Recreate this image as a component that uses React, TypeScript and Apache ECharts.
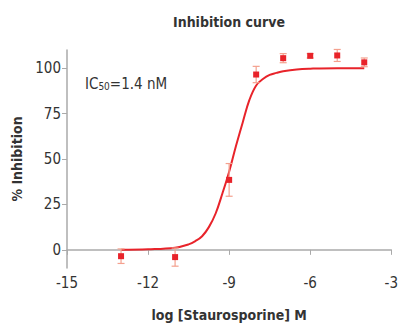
import React, { useEffect, useRef } from "react";
import * as echarts from "echarts";

const xTicks = [-15, -12, -9, -6, -3];
const yTicks = [0, 25, 50, 75, 100];

// measured points: log concentration, mean % inhibition, error (±)
const logConc = [-13, -11, -9, -8, -7, -6, -5, -4];
const inhibition = [-3.5, -4, 38.5, 96.5, 105.5, 106.8, 107, 103.2];
const errors = [4, 5, 9, 4.5, 2.5, 1.2, 3.3, 2.4];

// fitted curve
const curveX = [-13, -12, -11, -10.5, -10.25, -10, -9.75, -9.5, -9.25, -9, -8.75, -8.5, -8.25, -8, -7.75, -7.5, -7.25, -7, -6.5, -6, -5, -4];
const curveY = [0, 0.3, 1.2, 3, 4.8, 7.5, 12.5, 20, 31, 43, 57, 70, 82.5, 90.5, 94, 96.3, 97.4, 98.3, 99.3, 99.7, 100, 100];

const FONT = "'DejaVu Sans Condensed', 'Liberation Sans Narrow', sans-serif";
const RED = "#e8232a";
const ERR = "#f4a08e";

export default function App() {
  const ref = useRef<HTMLDivElement>(null);
  useEffect(() => {
    if (!ref.current) return;
    const chart = echarts.init(ref.current, null, { renderer: "svg" });
    const points = logConc.map((x, i) => [x, inhibition[i]]);
    const errData = logConc.map((x, i) => [x, inhibition[i] - errors[i], inhibition[i] + errors[i]]);
    const curve = curveX.map((x, i) => [x, curveY[i]]);
    chart.setOption({
      animation: false,
      title: {
        text: "Inhibition curve",
        left: 224,
        top: 10,
        textAlign: "center",
        textStyle: { fontFamily: FONT, fontSize: 14, fontWeight: "bold", color: "#333" },
      },
      grid: { left: 67, right: 3, top: 50, bottom: 55, containLabel: false },
      xAxis: {
        type: "value",
        min: -15,
        max: -3,
        interval: 3,
        name: "log [Staurosporine] M",
        nameLocation: "middle",
        nameGap: 40,
        nameTextStyle: { fontFamily: FONT, fontSize: 14, fontWeight: "bold", color: "#333" },
        axisLine: { lineStyle: { color: "#aaa", width: 1.5 } },
        axisTick: { show: true, length: 5, lineStyle: { color: "#aaa" }, customValues: xTicks },
        axisLabel: { fontFamily: FONT, fontSize: 15, color: "#333", margin: 7, customValues: xTicks },
        splitLine: { show: false },
      },
      yAxis: {
        type: "value",
        min: -10,
        max: 110,
        interval: 5,
        name: "% Inhibition",
        nameLocation: "middle",
        nameGap: 36,
        nameTextStyle: { fontFamily: FONT, fontSize: 14, fontWeight: "bold", color: "#333" },
        axisLine: { show: true, lineStyle: { color: "#aaa", width: 1.5 } },
        axisTick: { show: true, length: 5, lineStyle: { color: "#aaa" }, customValues: yTicks },
        axisLabel: { fontFamily: FONT, fontSize: 15, color: "#333", margin: 6, customValues: yTicks },
        splitLine: { show: false },
      },
      graphic: [
        {
          type: "text",
          left: 85,
          top: 76,
          style: {
            text: "{a|IC}{s|50}{a|=1.4 nM}",
            rich: {
              a: { fontFamily: FONT, fontSize: 15, fill: "#333", verticalAlign: "bottom" },
              s: { fontFamily: FONT, fontSize: 10, fill: "#333", padding: [6, 0, 0, 0], verticalAlign: "bottom" },
            },
          },
        },
      ],
      series: [
        {
          type: "line",
          data: curve,
          smooth: 0.4,
          showSymbol: false,
          symbol: "none",
          lineStyle: { color: RED, width: 2 },
          z: 2,
        },
        {
          type: "custom",
          data: errData,
          z: 3,
          renderItem: (params: any, api: any) => {
            const x = api.value(0);
            const lo = api.coord([x, api.value(1)]);
            const hi = api.coord([x, api.value(2)]);
            const w = 3.5;
            const style = { stroke: ERR, lineWidth: 1.2 };
            return {
              type: "group",
              children: [
                { type: "line", shape: { x1: lo[0], y1: lo[1], x2: hi[0], y2: hi[1] }, style },
                { type: "line", shape: { x1: lo[0] - w, y1: lo[1], x2: lo[0] + w, y2: lo[1] }, style },
                { type: "line", shape: { x1: hi[0] - w, y1: hi[1], x2: hi[0] + w, y2: hi[1] }, style },
              ],
            };
          },
        },
        {
          type: "scatter",
          data: points,
          symbol: "rect",
          symbolSize: 6,
          itemStyle: { color: RED, opacity: 1 },
          z: 4,
        },
      ],
    });
    return () => chart.dispose();
  }, []);
  return <div ref={ref} style={{ width: 401, height: 327, position: "absolute", left: 0, top: 0 }} />;
}
